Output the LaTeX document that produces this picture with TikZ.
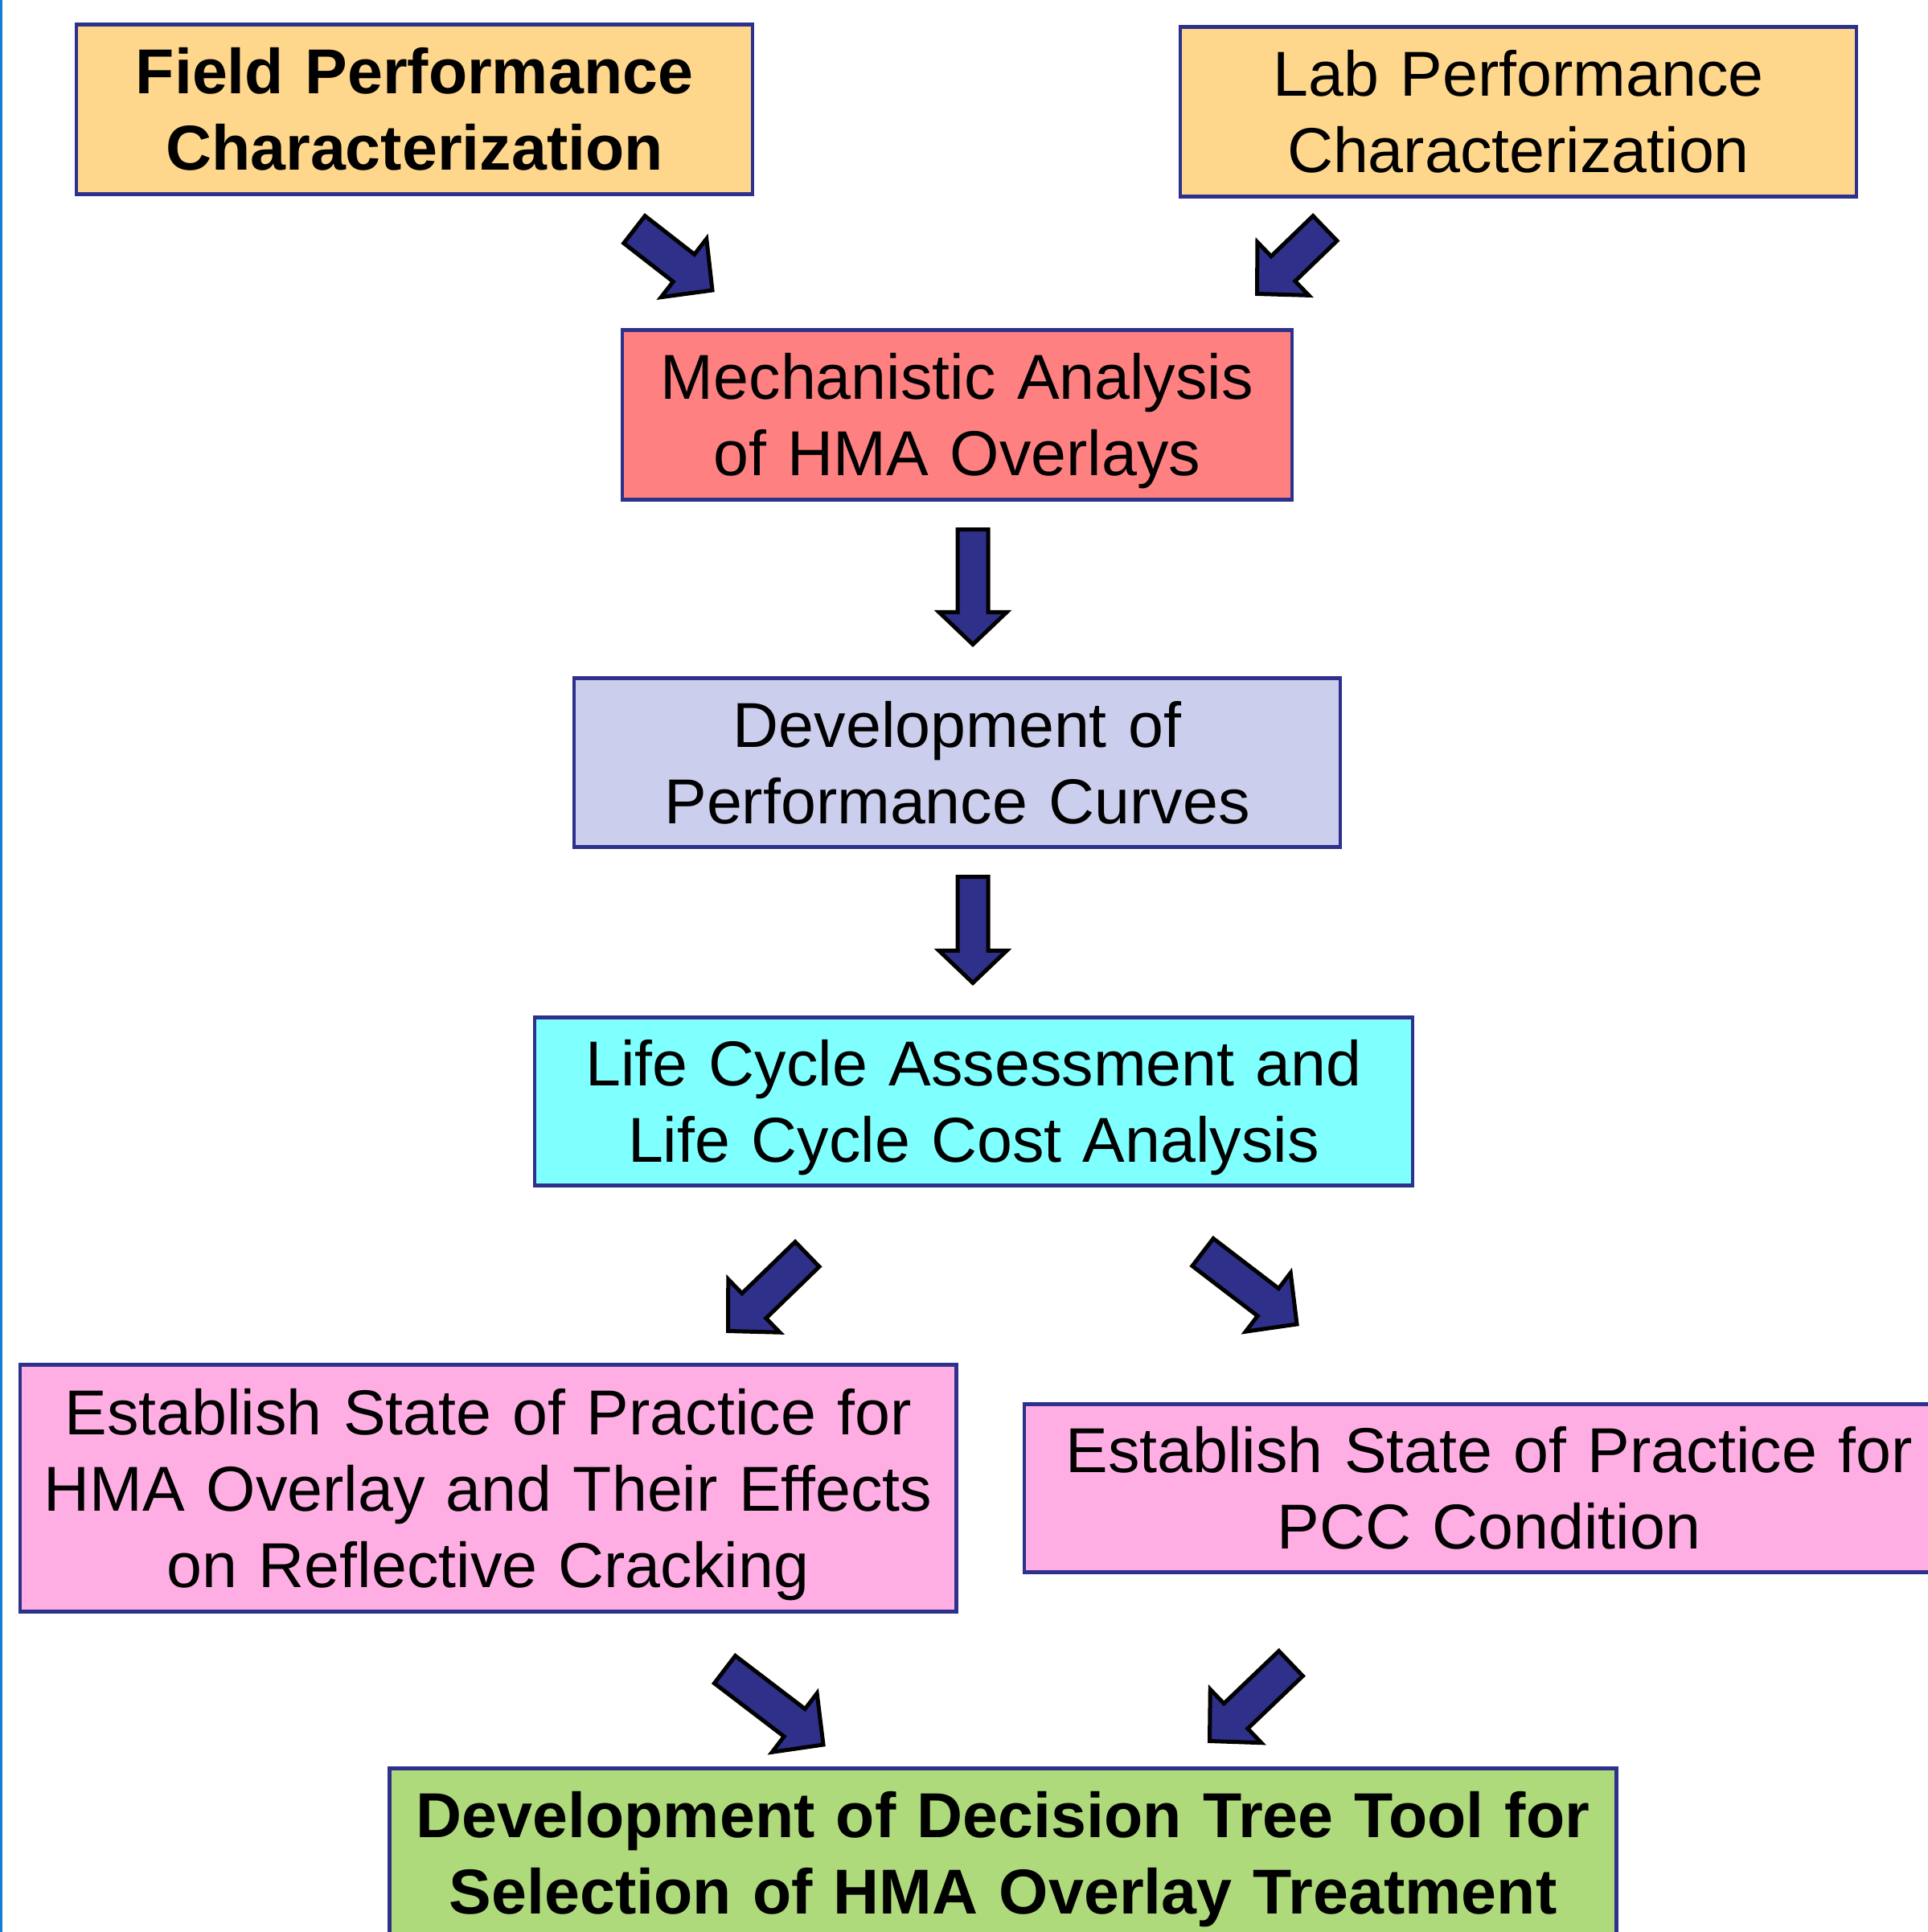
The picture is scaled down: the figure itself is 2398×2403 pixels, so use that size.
\documentclass[tikz,border=0pt]{standalone}
\usepackage{fontspec}
\setmainfont{Liberation Sans}
\usetikzlibrary{calc}
\definecolor{navy}{RGB}{46,49,140}
\definecolor{arrowfill}{RGB}{46,48,138}
\definecolor{peach}{RGB}{255,215,140}
\definecolor{salmon}{RGB}{255,128,128}
\definecolor{lavender}{RGB}{204,206,238}
\definecolor{aqua}{RGB}{128,255,255}
\definecolor{pinkbox}{RGB}{255,174,228}
\definecolor{greenbox}{RGB}{174,218,124}
\definecolor{edgeblue}{RGB}{20,125,210}
\tikzset{
  box/.style={draw=navy, line width=0.048cm, align=center, inner sep=0pt,
    font=\fontsize{22.45pt}{27pt}\selectfont, text height=16.1pt},
  boldbox/.style={font=\fontsize{22.45pt}{27pt}\selectfont\bfseries},
  twolines/.style={text depth=27pt},
  threelines/.style={text depth=54pt},
  barrow/.style={fill=arrowfill, draw=black, line width=0.05cm, line join=miter},
}
\newcommand\blkarrow[5]{%
  \coordinate (blkbase) at ($(#2)!#5!(#1)$);
  \filldraw[barrow] ($(#1)!#3!90:(#2)$) -- ($(blkbase)!#3!-90:(#1)$)
    -- ($(blkbase)!#4!-90:(#1)$) -- (#2) -- ($(blkbase)!#4!90:(#1)$)
    -- ($(blkbase)!#3!90:(#1)$) -- ($(#1)!#3!-90:(#2)$) -- cycle;
}
\begin{document}
\begin{tikzpicture}[x=0.01cm,y=-0.01cm]
\useasboundingbox (0,0) rectangle (2398,2403);
\clip (0,0) rectangle (2398,2403);
\fill[white] (0,0) rectangle (2398,2403);

% boxes
\node[box, boldbox, twolines, fill=peach, minimum width=8.405cm, minimum height=2.115cm, text width=8.2cm]
  (field) at (515.5,136) {Field Performance\\Characterization};
\node[box, twolines, fill=peach, minimum width=8.405cm, minimum height=2.115cm, text width=8.2cm]
  (lab) at (1888.5,139) {Lab Performance\\Characterization};
\node[box, twolines, fill=salmon, minimum width=8.325cm, minimum height=2.115cm, text width=8.1cm]
  (mech) at (1190.5,516) {Mechanistic Analysis\\of HMA Overlays};
\node[box, twolines, fill=lavender, minimum width=9.525cm, minimum height=2.105cm, text width=9.3cm]
  (perf) at (1190.5,948.5) {Development of\\Performance Curves};
\node[box, twolines, fill=aqua, minimum width=10.915cm, minimum height=2.095cm, text width=10.7cm]
  (lca) at (1211,1370) {Life Cycle Assessment and\\Life Cycle Cost Analysis};
\node[box, threelines, fill=pinkbox, minimum width=11.635cm, minimum height=3.075cm, text width=11.5cm]
  (hma) at (607,1851) {Establish State of Practice for\\HMA Overlay and Their Effects\\on Reflective Cracking};
\node[box, twolines, fill=pinkbox, minimum width=11.555cm, minimum height=2.095cm, text width=11.4cm]
  (pcc) at (1852,1851) {Establish State of Practice for\\PCC Condition};
\node[box, boldbox, twolines, fill=greenbox, minimum width=15.245cm, minimum height=2.115cm, text width=15.1cm]
  (tree) at (1247.5,2305) {Development of Decision Tree Tool for\\Selection of HMA Overlay Treatment};

% arrow end points
\coordinate (a1t) at (789,285.5);   \coordinate (a1p) at (886,361);
\coordinate (a2t) at (1648,284);    \coordinate (a2p) at (1563.5,365.5);
\coordinate (a3t) at (1210,658.5);  \coordinate (a3p) at (1210,801.5);
\coordinate (a4t) at (1210,1090.5); \coordinate (a4p) at (1210,1222.5);
\coordinate (a5t) at (1004,1560);   \coordinate (a5p) at (905.5,1655.5);
\coordinate (a6t) at (1496,1557.5); \coordinate (a6p) at (1613,1647);
\coordinate (a7t) at (901.5,2076.5);\coordinate (a7p) at (1024,2170);
\coordinate (a8t) at (1605.5,2069); \coordinate (a8p) at (1504.5,2165.5);

\blkarrow{a1t}{a1p}{0.215cm}{0.46cm}{0.45cm}
\blkarrow{a2t}{a2p}{0.215cm}{0.46cm}{0.45cm}
\blkarrow{a3t}{a3p}{0.19cm}{0.42cm}{0.40cm}
\blkarrow{a4t}{a4p}{0.19cm}{0.42cm}{0.40cm}
\blkarrow{a5t}{a5p}{0.215cm}{0.46cm}{0.45cm}
\blkarrow{a6t}{a6p}{0.215cm}{0.46cm}{0.45cm}
\blkarrow{a7t}{a7p}{0.215cm}{0.46cm}{0.45cm}
\blkarrow{a8t}{a8p}{0.215cm}{0.46cm}{0.45cm}

% left edge line
\fill[edgeblue] (0,0) rectangle (2.7,2403);
\end{tikzpicture}
\end{document}
